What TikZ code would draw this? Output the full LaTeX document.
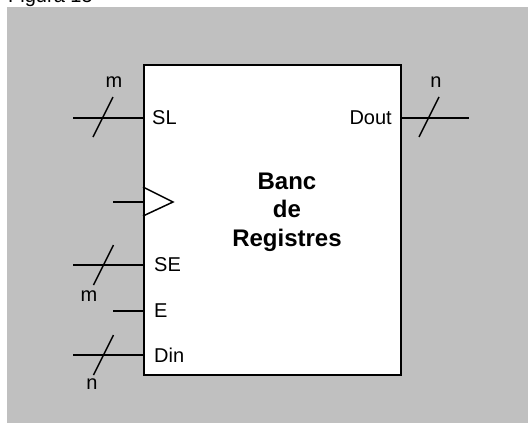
\documentclass[tikz,border=0pt]{standalone}
\usepackage{fontspec}
\setmainfont{Liberation Sans}
\begin{document}
\begin{tikzpicture}[x=1pt,y=-1pt,
  wire/.style={line width=1.5pt},
  lbl/.style={inner sep=0pt,font=\fontsize{20}{24}\selectfont},
  title/.style={inner sep=0pt,align=center,font=\fontsize{24}{28.5}\selectfont\bfseries}]
\useasboundingbox (0,0) rectangle (528,423);
\fill[gray!50!white,fill={rgb,255:red,192;green,192;blue,192}] (7,7) rectangle (528,423);
\node[lbl,anchor=base west] (fig) at (8,2) {Figura 15};
% main box
\node[draw,wire,fill=white,anchor=north west,minimum width=257pt,minimum height=310pt,inner sep=0pt] (box) at (143,64) {};
\node[title] (name) at (287,212) {Banc\\de\\Registres};
% port labels
\node[lbl,anchor=west] (sl) at (152,118) {SL};
\node[lbl,anchor=east] (dout) at (392,118) {Dout};
\node[lbl,anchor=west] (se) at (154,265) {SE};
\node[lbl,anchor=west] (e) at (154,311) {E};
\node[lbl,anchor=west] (din) at (154,355) {Din};
% free ends
\coordinate (slin) at (73,118);
\coordinate (slb) at (143,118);
\coordinate (doutb) at (400,118);
\coordinate (doutout) at (469,118);
\coordinate (sein) at (73,265);
\coordinate (seb) at (143,265);
\coordinate (ein) at (113,311);
\coordinate (eb) at (143,311);
\coordinate (dinin) at (73,355);
\coordinate (dinb) at (143,355);
\coordinate (clkin) at (113,202);
\coordinate (clkb) at (143,202);
% wires
\draw[wire] (slin) -- (slb);
\draw[wire] (doutb) -- (doutout);
\draw[wire] (sein) -- (seb);
\draw[wire] (ein) -- (eb);
\draw[wire] (dinin) -- (dinb);
\draw[wire] (clkin) -- (clkb);
% clock triangle
\draw[wire,line join=miter] (143,187) -- (173,202) -- (143,216);
% bus slashes
\draw[wire] (103,117) ++(10,-20) -- ++(-20,40);
\draw[wire] (429,117) ++(10,-20) -- ++(-20,40);
\draw[wire] (103.5,265) ++(10,-20) -- ++(-20,40);
\draw[wire] (103.5,355) ++(10,-20) -- ++(-20,40);
% bus widths
\node[lbl] (m1) at (114,82) {m};
\node[lbl] (n1) at (436,82) {n};
\node[lbl] (m2) at (89,296) {m};
\node[lbl] (n2) at (92,384) {n};
\end{tikzpicture}
\end{document}
